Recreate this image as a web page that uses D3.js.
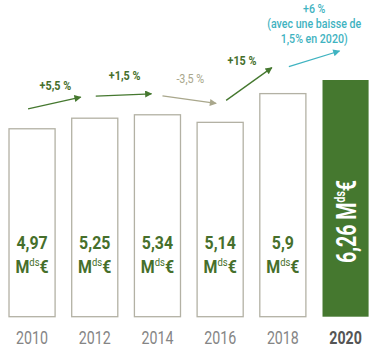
<!DOCTYPE html>
<html><head><meta charset="utf-8">
<script src="https://cdn.jsdelivr.net/npm/d3@7"></script>
<style>
html,body{margin:0;padding:0;background:#fff;}
svg{display:block;}
text{font-family:Roboto,"Open Sans",sans-serif;}
</style></head>
<body>
<svg id="chart" width="389" height="358"></svg>
<script>
const years = ["2010","2012","2014","2016","2018","2020"];
const values = [4.97, 5.25, 5.34, 5.14, 5.9, 6.26];
const valueLabels = ["4,97","5,25","5,34","5,14","5,9","6,26"];
const growthLabels = ["+5,5 %","+1,5 %","-3,5 %","+15 %","+6 %"];
const growthNote = ["(avec une baisse de","1,5% en 2020)"];
const unitMain = "M", unitSup = "ds", unitEuro = "€";

const svg = d3.select("#chart");
const green = "#45782f", textGreen = "#466f2b", beige = "#a9a78c", teal = "#3fb3c1", grey = "#858585";
const arrowColors = [green, green, beige, green, teal];
const labelColors = [textGreen, textGreen, beige, textGreen, teal];

const x = d3.scaleBand().domain(years).range([0.7, 376.9]).paddingInner(0.265).paddingOuter(0.1325);
const y = d3.scaleLinear().domain([0, 6.26]).range([316.7, 80]);

// condensed text helper: group at (px,py), squeezed horizontally
function ctext(px, py, sx, rot) {
  const g = svg.append("g").attr("transform", `translate(${px},${py})${rot ? ` rotate(${rot})` : ""} scale(${sx},1)`);
  return g.append("text").attr("x", 0).attr("y", 0).attr("text-anchor", "middle");
}

const defs = svg.append("defs");
arrowColors.forEach((c, i) => {
  defs.append("marker").attr("id", "ah" + i).attr("viewBox", "0 0 10 10")
    .attr("refX", 9).attr("refY", 5).attr("markerWidth", 11).attr("markerHeight", 7)
    .attr("markerUnits", "userSpaceOnUse").attr("orient", "auto")
    .append("path").attr("d", "M0,0 L10,5 L0,10 Z").attr("fill", c);
});

// bars
svg.selectAll("rect.bar").data(years).join("rect")
  .attr("class", "bar")
  .attr("x", d => x(d))
  .attr("y", (d, i) => y(values[i]))
  .attr("width", x.bandwidth())
  .attr("height", (d, i) => y(0) - y(values[i]))
  .attr("fill", (d, i) => i === years.length - 1 ? green : "#fff")
  .attr("stroke", (d, i) => i === years.length - 1 ? "none" : "#b3b1a4")
  .attr("stroke-width", 1.3);

const last = years.length - 1;
years.forEach((yr, i) => {
  const cx = x(yr) + x.bandwidth() / 2;
  if (i < last) {
    ctext(cx, 249.3, 0.86).attr("font-size", 18.5).attr("font-weight", "bold")
      .attr("fill", textGreen).text(valueLabels[i]);
    const t = ctext(cx, 273, 0.86).attr("font-size", 18.5).attr("font-weight", "bold").attr("fill", textGreen);
    t.append("tspan").text(unitMain);
    t.append("tspan").attr("font-size", 11).attr("font-weight", "normal").attr("dy", -7).text(unitSup);
    t.append("tspan").attr("dy", 7).text(unitEuro);
  } else {
    const t = ctext(cx + 10, (170 + 273) / 2, 0.7, -90)
      .attr("font-size", 28).attr("font-weight", "bold").attr("fill", "#fff");
    t.append("tspan").text(valueLabels[i] + " " + unitMain);
    t.append("tspan").attr("font-size", 15).attr("dy", -11).text(unitSup);
    t.append("tspan").attr("dy", 11).text(unitEuro);
  }
  ctext(cx, 344, 0.76).attr("font-size", 18.7)
    .attr("font-weight", i === last ? "bold" : "normal")
    .attr("fill", i === last ? "#555" : grey).text(yr);
});

// growth arrows
const lift = [[20, 21], [22, 21], [19, 19], [22, 26], [27, 29]];
const xs = [[-4, -14], [1, -6], [5, -4], [6, -11], [6, -6]];
growthLabels.forEach((g, i) => {
  const a = years[i], b = years[i + 1];
  const x1 = x(a) + x.bandwidth() / 2 + xs[i][0];
  const x2 = x(b) + x.bandwidth() / 2 + xs[i][1];
  const y1 = y(values[i]) - lift[i][0];
  const y2 = y(values[i + 1]) - lift[i][1];
  svg.append("line").attr("x1", x1).attr("y1", y1).attr("x2", x2).attr("y2", y2)
    .attr("stroke", arrowColors[i]).attr("stroke-width", 1.3).attr("marker-end", `url(#ah${i})`);
  const mx = (x1 + x2) / 2, my = (y1 + y2) / 2;
  if (i < growthLabels.length - 1) {
    ctext(i === 3 ? mx - 7 : mx + 1, my - [13, 15, 17, 19][i], 0.9)
      .attr("font-size", 12).attr("font-weight", i === 2 ? "normal" : "bold")
      .attr("fill", labelColors[i]).text(g);
  } else {
    [g].concat(growthNote).forEach((l, k) => {
      ctext(mx, 12.5 + k * 15.3, 0.85).attr("font-size", 12.5).attr("font-weight", 500)
        .attr("fill", labelColors[i]).text(l);
    });
  }
});
</script>
</body></html>
